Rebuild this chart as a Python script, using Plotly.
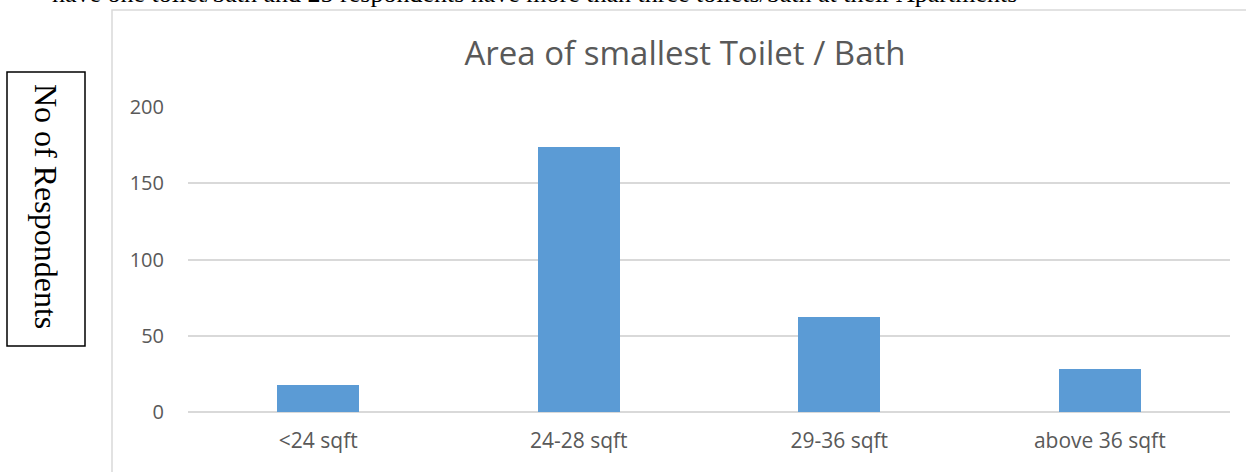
import plotly.graph_objects as go

categories = ["<24 sqft", "24-28 sqft", "29-36 sqft", "above 36 sqft"]
respondents = [18, 174, 62, 28]
y_ticks = [0, 50, 100, 150, 200]

W, H = 1246, 472
L, R, T, B = 188, 16, 107, 60
pw, ph = W - L - R, H - T - B


def px(x):
    return (x - L) / pw


def py(y):
    return (H - B - y) / ph


fig = go.Figure()
fig.add_trace(go.Bar(
    x=categories, y=respondents, width=0.315,
    marker=dict(color="#5B9BD5", line=dict(width=0)),
))

# chart frame (extends past the cropped right/bottom edges)
fig.add_shape(type="rect", xref="paper", yref="paper",
              x0=px(112), x1=px(1260), y0=py(10), y1=py(490),
              line=dict(color="#D9D9D9", width=1.5), layer="below")
# boxed y-axis label
fig.add_shape(type="rect", xref="paper", yref="paper",
              x0=px(7), x1=px(85), y0=py(72), y1=py(346),
              line=dict(color="black", width=1.5))
fig.add_annotation(text="No of Respondents", textangle=90, showarrow=False,
                   xref="paper", yref="paper", x=px(46), y=py(206),
                   xanchor="center", yanchor="middle",
                   font=dict(family="Liberation Serif", size=32, color="black"))
# cut-off text line from the surrounding document
fig.add_annotation(text="have one toilet/bath and 25 respondents have more than three toilets/bath at their Apartments",
                   showarrow=False, xref="paper", yref="paper", x=px(50), y=py(-7),
                   xanchor="left", yanchor="middle",
                   font=dict(family="Liberation Serif", size=26, color="black"))

fig.update_layout(
    width=W, height=H,
    margin=dict(l=L, r=R, t=T, b=B),
    paper_bgcolor="white", plot_bgcolor="white",
    showlegend=False,
    title=dict(text="Area of smallest Toilet / Bath", xref="container", x=685 / W,
               xanchor="center", y=1 - 53 / H, yanchor="middle",
               font=dict(family="Open Sans", size=33, color="#595959")),
    xaxis=dict(showgrid=False, showline=False, ticks="", ticklabelstandoff=14,
               tickfont=dict(family="Open Sans", size=21, color="#595959")),
    yaxis=dict(range=[0, 200], tickvals=y_ticks, showgrid=True, gridcolor="#D9D9D9",
               gridwidth=1.5, zeroline=True, zerolinecolor="#D9D9D9", zerolinewidth=1.5,
               ticklabelstandoff=23,
               tickfont=dict(family="Open Sans", size=20, color="#595959")),
    bargap=0,
)

fig.write_html("out.html", config={"displayModeBar": False},
               post_script="document.body.style.margin='0';")
